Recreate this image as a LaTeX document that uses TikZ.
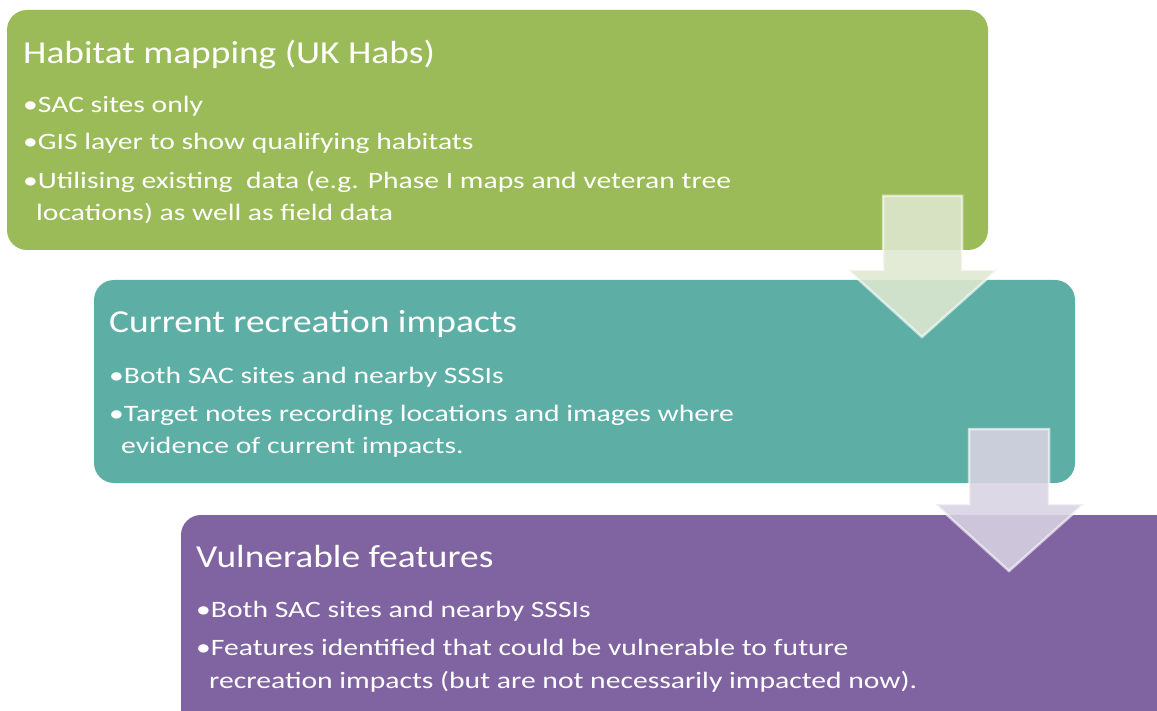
\documentclass[tikz,border=0pt]{standalone}
\usepackage{fontspec}
\setmainfont{Carlito}
\newfontfamily\ttlfont[FakeStretch=1.17]{Carlito}
\newfontfamily\itmfont[FakeStretch=1.26]{Carlito}
\definecolor{boxgreen}{HTML}{9BBB59}
\definecolor{boxteal}{HTML}{5DAFA6}
\definecolor{boxpurple}{HTML}{8064A2}
\definecolor{arrowgreen}{RGB}{223,232,209}
\definecolor{arrowlilac}{RGB}{216,211,226}
\tikzset{
  panel/.style={rounded corners=20pt, draw=none},
  ttl/.style={anchor=base west, text=white, inner sep=0pt, font=\ttlfont\fontsize{32}{36}\selectfont},
  itm/.style={anchor=base west, text=white, inner sep=0pt, font=\itmfont\fontsize{23.5}{28}\selectfont},
  blockarrow/.style={fill opacity=0.88, draw opacity=0.6, draw=white, line width=2.5pt, line join=miter}
}
\begin{document}
\begin{tikzpicture}[x=1pt,y=-1pt]
\useasboundingbox (0,0) rectangle (1157,711);
\clip (0,0) rectangle (1157,711);
% boxes
\fill[panel, boxgreen] (7,10) rectangle (988,250);
\node[coordinate] (b1) at (7,10) {};
\fill[panel, boxteal] (94,280) rectangle (1075,483);
\node[coordinate] (b2) at (94,280) {};
\fill[panel, boxpurple] (181,515) rectangle (1180,740);
\node[coordinate] (b3) at (181,515) {};
% box 1 text
\node[ttl] (t1) at (23,64) {Habitat mapping (UK Habs)};
\node[itm] (t1a) at (23,113) {•SAC sites only};
\node[itm] (t1b) at (23,150) {•GIS layer to show qualifying habitats};
\node[itm] (t1c) at (23,189) {•Utilising existing\ \ data (e.g. Phase I maps and veteran tree};
\node[itm] (t1d) at (36,221) {locations) as well as field data};
% box 2 text
\node[ttl] (t2) at (109,333) {Current recreation impacts};
\node[itm] (t2a) at (109,384) {•Both SAC sites and nearby SSSIs};
\node[itm] (t2b) at (109,421) {•Target notes recording locations and images where};
\node[itm] (t2c) at (121,453) {evidence of current impacts.};
% box 3 text
\node[ttl] (t3) at (196,567) {Vulnerable features};
\node[itm] (t3a) at (196,617) {•Both SAC sites and nearby SSSIs};
\node[itm] (t3b) at (196,655) {•Features identified that could be vulnerable to future};
\node[itm] (t3c) at (209,688) {recreation impacts (but are not necessarily impacted now).};
% arrows
\filldraw[blockarrow, fill=arrowgreen]
  (883,196) -- (962,196) -- (962,270) -- (997,270) -- (922,337) -- (848,270) -- (883,270) -- cycle;
\filldraw[blockarrow, fill=arrowlilac]
  (969,429) -- (1049,429) -- (1049,504) -- (1084,504) -- (1009,571) -- (935,504) -- (969,504) -- cycle;
\end{tikzpicture}
\end{document}
